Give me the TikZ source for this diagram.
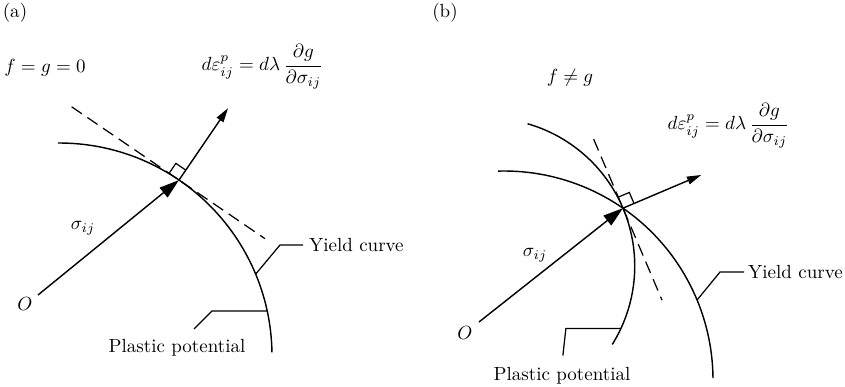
\documentclass[tikz,border=0pt]{standalone}
\usepackage{amsmath}
\usetikzlibrary{calc,arrows.meta}
\begin{document}
\begin{tikzpicture}[
    x=0.526pt, y=0.526pt,
    every node/.style={font=\normalsize},
    curve/.style={line width=0.75pt},
    leader/.style={line width=0.65pt},
    tangent/.style={line width=0.65pt, dash pattern=on 6.5pt off 3.5pt},
    loadarrow/.style={line width=0.75pt, -{Triangle[length=10.5pt,width=6.5pt]}},
    normarrow/.style={line width=0.75pt, -{Triangle[length=7.5pt,width=4.2pt]}},
  ]
  \useasboundingbox (0,0) rectangle (845,387);

  % ---- (a) associated flow ----
  \node (taga) at (15,374) {(a)};
  \node (conda) at (45,319) {$f = g = 0$};
  \node[anchor=west] (flowa) at (195,320) {$d\varepsilon^{p}_{ij} = d\lambda\,\dfrac{\partial g}{\partial \sigma_{ij}}$};

  \coordinate (ca) at (59,31);
  \coordinate (pa) at ($(ca)+(55.7:213)$);
  \coordinate (oa) at (38,92);
  \coordinate (na) at ($(pa)+(55.7:87)$);
  \coordinate (ta1) at ($(pa)+(145.7:130)$);
  \coordinate (ta2) at ($(pa)+(-34.3:104)$);

  % Yield curve = plastic potential
  \draw[curve] ($(ca)+(90.3:213)$) arc[start angle=90.3, end angle=1, radius=213];
  \draw[tangent] (ta1) -- (ta2);
  \draw[loadarrow] (oa) -- (pa);
  \draw[normarrow] (pa) -- (na);
  \draw[leader] ($(pa)+(55.7:12)$) -- ($(pa)+(55.7:12)+(145.7:12)$) -- ($(pa)+(145.7:12)$);

  \node (siga) at (83,159) {$\sigma_{ij}$};
  \node (olba) at (25,83) {$O$};

  % Leaders
  \coordinate (ya) at ($(ca)+(22.6:213)$);
  \node[anchor=west, inner sep=3pt] (yielda) at (303,142) {Yield curve};
  \draw[leader] (ya) -- (280,142) -- (yielda.west);
  \coordinate (ppa) at ($(ca)+(12.2:213)$);
  \node (plasa) at (177,39) {Plastic potential};
  \draw[leader] (ppa) -- (212,76) -- (194,58);

  % ---- (b) non-associated flow ----
  \node (tagb) at (445,374) {(b)};
  \node (condb) at (570,309) {$f \neq g$};
  \node[anchor=west] (flowb) at (661,261) {$d\varepsilon^{p}_{ij} = d\lambda\,\dfrac{\partial g}{\partial \sigma_{ij}}$};

  \coordinate (cb) at (504,7);
  \coordinate (pb) at ($(cb)+(55.3:209)$);
  \coordinate (cpb) at ($(pb)+(203:148)$);
  \coordinate (ob) at (479,65);
  \coordinate (nb) at ($(pb)+(23:85)$);
  \coordinate (tb1) at ($(pb)+(113:75)$);
  \coordinate (tb2) at ($(pb)+(-67:100)$);

  % Yield curve and plastic potential
  \draw[curve] ($(cb)+(91.6:209)$) arc[start angle=91.6, end angle=0.5, radius=209];
  \draw[curve] ($(cpb)+(74:148)$) arc[start angle=74, end angle=-32, radius=148];
  \draw[tangent] (tb1) -- (tb2);
  \draw[loadarrow] (ob) -- (pb);
  \draw[normarrow] (pb) -- (nb);
  \draw[leader] ($(pb)+(23:12)$) -- ($(pb)+(23:12)+(113:12)$) -- ($(pb)+(113:12)$);

  \node (sigb) at (535,132) {$\sigma_{ij}$};
  \node (olbb) at (465,54) {$O$};

  % Leaders
  \coordinate (yb) at ($(cb)+(22.5:209)$);
  \node[anchor=west, inner sep=2pt] (yieldb) at (744,115) {Yield curve};
  \draw[leader] (yb) -- (720,115) -- (yieldb.west);
  \coordinate (ppb) at ($(cpb)+(-25:148)$);
  \coordinate (ppb1) at ($(ppb)+(-55,0)$);
  \node (plasb) at (562,11) {Plastic potential};
  \draw[leader] (ppb) -- (ppb1) -- ($(ppb1)+(-3,-27)$);
\end{tikzpicture}
\end{document}
